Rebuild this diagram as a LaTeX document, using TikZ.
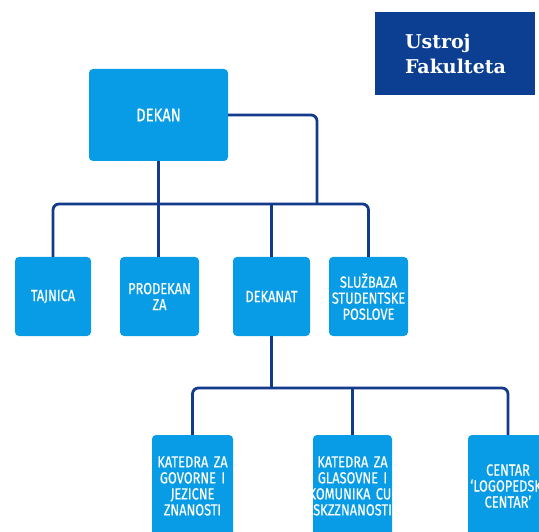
\documentclass[tikz,border=0pt]{standalone}
\usepackage{fontspec}
\usepackage{tikz}
\usetikzlibrary{positioning,calc}
\newfontfamily\boxfont[FakeStretch=0.8,FakeBold=0.4]{Fira Sans}
\newfontfamily\logofont{DejaVu Serif}
\definecolor{boxblue}{RGB}{8,156,230}
\definecolor{lineblue}{RGB}{20,58,140}
\definecolor{logoblue}{RGB}{12,62,146}

\begin{document}
\begin{tikzpicture}[x=1pt, y=-1pt,
        block/.style={rectangle, rounded corners=4pt, fill=boxblue, text=white, inner sep=0pt, align=center, font=\boxfont\fontsize{16}{16}\selectfont},
        logo/.style={rectangle, fill=logoblue, text=white, inner sep=0pt, align=left, minimum width=160pt, minimum height=83pt, text width=100pt, font=\logofont\bfseries\fontsize{19}{25}\selectfont},
        line/.style={draw, line width=2.8pt, color=lineblue, rounded corners=6pt}]

    \clip (0,0) rectangle (539,532);

    \node [logo] (logo) at (455,53.5) {Ustroj\\Fakulteta};

    \node [block, text width=139pt, minimum height=92pt, font=\boxfont\fontsize{18.5}{19}\selectfont] (dekan) at (158.5,115) {DEKAN};

    \node [block, text width=76pt, minimum height=79pt] (tajnica) at (53,296.5) {TAJNICA};
    \node [block, text width=79pt, minimum height=79pt] (prodekan) at (159.5,296.5) {PRODEKAN\\ZA};
    \node [block, text width=77pt, minimum height=79pt] (dekanat) at (271.5,296.5) {DEKANAT};
    \node [block, text width=79pt, minimum height=79pt] (sluzba) at (368.5,296.5) {SLUŽBAZA\\STUDENTSKE\\POSLOVE};

    \node [block, text width=81pt, minimum height=102pt] (katedra1) at (192.5,486) {KATEDRA ZA\\GOVORNE I\\JEZICNE\\ZNANOSTI};
    \node [block, text width=79pt, minimum height=102pt] (katedra2) at (352.5,486) {KATEDRA ZA\\GLASOVNE I\\\makebox[0pt]{KOMUNIKA CU-}\\SKZZNANOSTI};
    \node [block, text width=80pt, minimum height=102pt] (centar) at (508,486) {CENTAR\\\makebox[0pt]{‘LOGOPEDSKI}\\CENTAR’};

    \coordinate (bar1) at (0,204);
    \coordinate (knee) at (317,204);
    \coordinate (bar2) at (0,388);

    \path [line] (dekan.south) -- (dekan.south |- prodekan.north);
    \path [line] (tajnica.north) |- (sluzba.north |- bar1) -- (sluzba.north);
    \path [line] (dekan.east) -| (knee);
    \path [line] (dekanat.north) -- (dekanat.north |- bar1);

    \path [line] (dekanat.south) -- (dekanat.south |- bar2);
    \path [line] (katedra1.north) |- (centar.north |- bar2) -- (centar.north); % lower bar
    \path [line] (katedra2.north) -- (katedra2.north |- bar2);
\end{tikzpicture}
\end{document}
